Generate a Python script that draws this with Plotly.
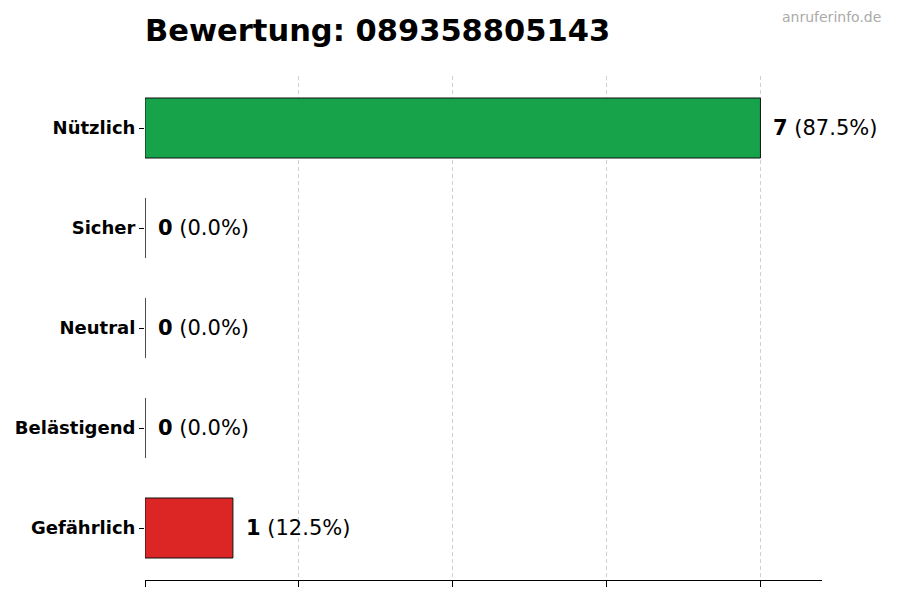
import plotly.graph_objects as go

# rating data
categories = ["Nützlich", "Sicher", "Neutral", "Belästigend", "Gefährlich"]
counts = [7, 0, 0, 0, 1]
colors = ["#16a34a", "#9ca3af", "#6b7280", "#f97316", "#dc2626"]
phone = "089358805143"

total = sum(counts)
xmax = max(counts) * 1.1
grid_ticks = [max(counts) * i / 4 for i in range(5)]

fig = go.Figure()
fig.add_trace(go.Bar(
    x=counts, y=categories, orientation="h",
    marker=dict(color=colors, line=dict(color="#111111", width=1)),
    width=0.6, hoverinfo="skip",
))

for cat, n in zip(categories, counts):
    pct = n / total * 100
    fig.add_annotation(
        x=n, y=cat, xanchor="left", xshift=11, showarrow=False,
        text=f"<b>{n}</b> ({pct:.1f}%)",
        font=dict(size=21, color="black", family="DejaVu Sans"),
    )

fig.add_annotation(
    xref="paper", yref="paper", x=1.09, y=1.117, xanchor="right", yanchor="middle",
    text="anruferinfo.de", showarrow=False,
    font=dict(size=14, color="#aaaaaa", family="DejaVu Sans"),
)

# page body has an 8px margin, so the figure is a bit smaller than the window
fig.update_layout(
    width=892, height=592,
    margin=dict(l=137, r=78, t=68, b=20),
    paper_bgcolor="white", plot_bgcolor="white",
    font=dict(family="DejaVu Sans", color="black"),
    title=dict(text=f"<b>Bewertung: {phone}</b>", x=137 / 892, xanchor="left",
               y=0.963, yanchor="middle", font=dict(size=30.5, color="black")),
    showlegend=False,
)
fig.update_xaxes(
    range=[0, xmax], tickvals=grid_ticks, showticklabels=False,
    ticks="outside", ticklen=6, tickcolor="black",
    showline=True, linecolor="black", linewidth=1,
    showgrid=True, gridcolor="#cfcfcf", gridwidth=0.8, griddash="4px,3px",
    zeroline=False, automargin=False,
)
fig.update_yaxes(
    autorange=False, range=[4.52, -0.52],
    ticks="outside", ticklen=5, tickcolor="black",
    tickfont=dict(size=18, color="black", family="DejaVu Sans", weight="bold"),
    showline=False, showgrid=False, zeroline=False, automargin=False,
)

fig.write_html("out.html")
